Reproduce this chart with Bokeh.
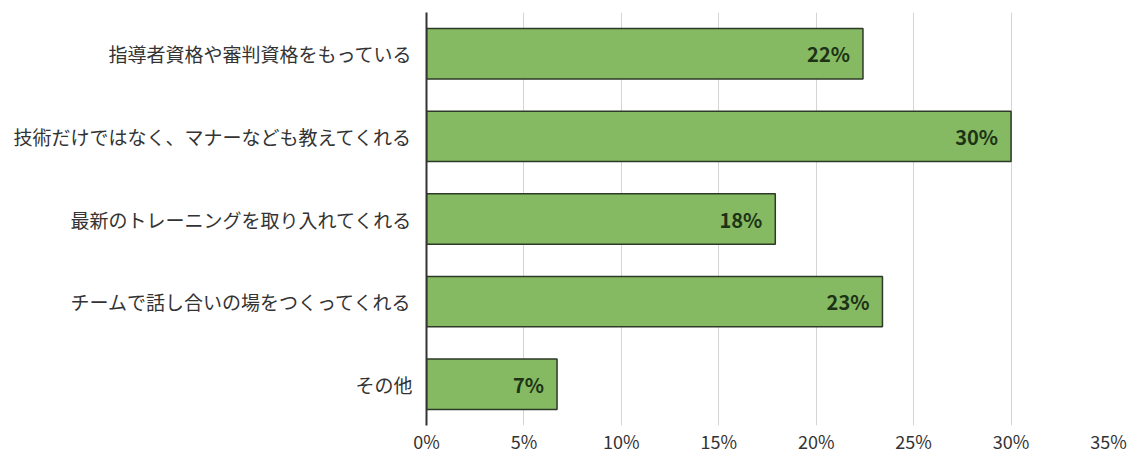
from bokeh.plotting import figure
from bokeh.models import ColumnDataSource, FactorRange, Range1d, FixedTicker, CustomJSTickFormatter
from bokeh.core.properties import value
from bokeh.embed import file_html
from bokeh.resources import INLINE

categories = [
    "指導者資格や審判資格をもっている",
    "技術だけではなく、マナーなども教えてくれる",
    "最新のトレーニングを取り入れてくれる",
    "チームで話し合いの場をつくってくれる",
    "その他",
]
values = [22.4, 30.0, 17.9, 23.4, 6.7]
labels = ["22%", "30%", "18%", "23%", "7%"]
ticks = [0, 5, 10, 15, 20, 25, 30, 35]

src = ColumnDataSource(dict(cat=categories, val=values, lab=labels))

p = figure(
    width=1136, height=456,
    y_range=FactorRange(*reversed(categories)),
    x_range=Range1d(0, 35),
    output_backend="svg", toolbar_location=None,
    min_border_left=426, min_border_right=28, min_border_top=12, min_border_bottom=0,
)
p.outline_line_color = None
p.background_fill_color = "white"
p.border_fill_color = "white"

p.hbar(y="cat", right="val", left=0, height=0.61, source=src,
       fill_color="#85b962", line_color="#2e3a28", line_width=1.5)

p.text(x="val", y="cat", text="lab", source=src,
       text_align="right", text_baseline="middle", x_offset=-13,
       text_font=value("Noto Sans CJK JP"), text_font_size="20px",
       text_font_style="bold", text_color="#1d3316")

p.xgrid.ticker = FixedTicker(ticks=ticks)
p.xgrid.grid_line_color = "#d4d4d4"
p.xgrid.grid_line_width = 1
p.ygrid.grid_line_color = None

p.xaxis.ticker = FixedTicker(ticks=ticks)
p.xaxis.formatter = CustomJSTickFormatter(code="return tick + '%';")
p.xaxis.axis_line_color = None
p.xaxis.major_tick_line_color = None
p.xaxis.minor_tick_line_color = None
p.xaxis.major_tick_out = 0
p.xaxis.major_label_standoff = 2
p.xaxis.major_label_text_font = "Noto Sans CJK JP"
p.xaxis.major_label_text_font_size = "18px"
p.xaxis.major_label_text_color = "#333333"

p.yaxis.axis_line_color = "#333333"
p.yaxis.axis_line_width = 2
p.yaxis.major_tick_line_color = None
p.yaxis.minor_tick_line_color = None
p.yaxis.major_tick_out = 0
p.yaxis.major_label_standoff = 14
p.yaxis.major_label_text_font = "Noto Sans CJK JP"
p.yaxis.major_label_text_font_size = "19px"
p.yaxis.major_label_text_color = "#333333"

open("out.html", "w").write(file_html(p, INLINE))
